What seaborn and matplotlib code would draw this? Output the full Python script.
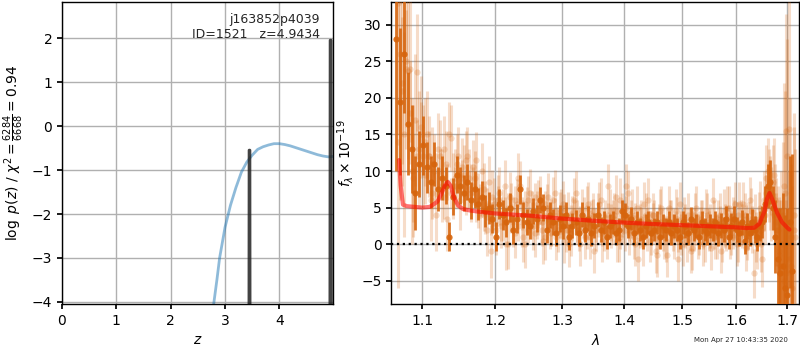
import numpy as np
import pandas as pd
import matplotlib
matplotlib.use("Agg")
import matplotlib.pyplot as plt
import seaborn as sns
from matplotlib.ticker import FixedLocator, FixedFormatter, NullLocator

# ---------------- redshift fit: log p(z) and scaled chi^2 ----------------
chi2_z = [2.78, 2.85, 2.90, 3.00, 3.10, 3.20, 3.30, 3.40, 3.50, 3.60, 3.70,
          3.80, 3.90, 4.00, 4.10, 4.20, 4.30, 4.40, 4.50, 4.60, 4.70, 4.80,
          4.90, 4.99]
chi2_scaled = [-4.15, -3.50, -3.00, -2.30, -1.80, -1.40, -1.05, -0.82, -0.66,
               -0.53, -0.47, -0.43, -0.40, -0.40, -0.42, -0.45, -0.49, -0.53,
               -0.57, -0.61, -0.65, -0.68, -0.70, -0.69]

pz_z = [0.00, 3.430, 3.445, 3.455, 3.470, 4.920, 4.936, 4.950, 4.965, 5.00]
pz_logp = [-20.0, -20.0, -0.55, -0.55, -20.0, -20.0, 1.95, 1.95, -20.0, -20.0]

chi2_num, chi2_den = 6284, 6668
obj_root, obj_id, z_best = "j163852p4039", 1521, 4.9434

# ---------------- 1D spectra of four beams (units of 1e-19) ----------------
# grism pixel grids of the extractions
wave_a = 1.066 + 0.005 * np.arange(130)
wave_b = 1.0685 + 0.005 * np.arange(130)
wave_c = 1.0685 + 0.005 * np.arange(130)
wave_d = 1.071 + 0.005 * np.arange(130)

flux_a = [28, 19.5, 26, 16.5, 13, 7, 11, 13.5, 10.5, 8.5,
          11, 7.5, 9, 8, 1, 6.5, 9.5, 8, 7, 8.5,
          6, 7.5, 5.5, 6.5, 4.5, 5, 3.5, 1, 5.5, 4,
          3, 5, 2, 3.5, 7.5, 4, 3, 2.5, 4.5, 3.5,
          6, 5, 2, 4, 3, 1.5, 3.5, 2.5, 4, 1,
          2.5, 3, 1.5, 4, 2, 3.5, 1.5, 2.5, 4, 2,
          3, 1, 2.5, 3, 1.5, 2, 4.5, 4, 2.5, 3.5,
          1.5, 3, 2, 1, 2.5, 3, 1.5, 2, 3, 1,
          2.5, 2, 3, 1.5, 2.5, 2, 1, 3, 2.5, 1.5,
          3.5, 2, 2.5, 1, 3, 2, 1.5, 2.5, 2, 3,
          1.5, 2.5, 2, 3.5, 1, 2.5, 3.5, 2, 1.5, 3,
          0.5, 2.5, 1.5, 3, 2, 1, 2.5, 3, 5.5, 8,
          8.5, 5, 1, -2, -4, -3, -6, -7, 3, -3.7]
err_a = [18, 10, 8, 7, 6, 5, 4.5, 4, 3.5, 3.5,
         3, 3, 3, 2.5, 2, 2.5, 2.5, 2.5, 2.5, 2.5,
         2.5, 2.5, 2.2, 2.2, 2.2, 2.2, 2, 2, 2, 2,
         2, 2, 2, 2, 2, 1.8, 1.8, 1.8, 1.8, 1.8,
         1.8, 1.8, 1.8, 1.8, 1.8, 1.8, 1.8, 1.8, 1.8, 1.8,
         1.7, 1.7, 1.7, 1.7, 1.7, 1.7, 1.7, 1.7, 1.7, 1.7,
         1.6, 1.6, 1.6, 1.6, 1.6, 1.6, 1.6, 1.6, 1.6, 1.6,
         1.6, 1.6, 1.6, 1.6, 1.6, 1.6, 1.6, 1.6, 1.6, 1.6,
         1.6, 1.6, 1.6, 1.6, 1.6, 1.6, 1.6, 1.6, 1.6, 1.6,
         1.6, 1.6, 1.6, 1.6, 1.6, 1.6, 1.6, 1.6, 1.6, 1.6,
         1.7, 1.7, 1.7, 1.7, 1.7, 1.7, 1.7, 1.7, 1.7, 1.7,
         1.8, 1.8, 1.8, 1.8, 1.8, 2, 2, 2.2, 2.5, 3,
         3, 3, 5, 7, 9, 10, 10, 12, 9, 16]

flux_c = [33, 21, 24, 18, 9, 12, 15, 9.5, 12, 7,
          9.5, 10, 6.5, 8.5, 7, 8, 7.5, 9, 6.5, 7.5,
          8, 5.5, 6, 4, 5.5, 3.5, 4.5, 6, 2.5, 4.5,
          5, 3.5, 6, 2.5, 4, 5.5, 2, 4, 6.5, 3,
          2, 5.5, 3.5, 1.5, 4.5, 3, 2.5, 5, 2, 3.5,
          4.5, 2, 3.5, 2.5, 1, 3, 4.5, 2, 3.5, 1.5,
          2.5, 4, 2, 3.5, 4.5, 1, 3, 5, 2, 2.5,
          4, 1.5, 3.5, 2.5, 1.5, 3, 4, 2, 1, 3,
          2, 3.5, 1.5, 2.5, 3, 0.5, 2.5, 3.5, 1.5, 2,
          3, 1.5, 2.5, 3.5, 1, 2.5, 3, 2, 1, 2.5,
          3.5, 2, 1.5, 2.5, 3, 1, 2.5, 4, 1.5, 2.5,
          3.5, 1, 2, 3, 1.5, 2.5, 2, 4, 7, 8.5,
          7, 4, 2, -1, -3, -5, -4, -2, 1, 2]
err_c = err_a

flux_b = [14, 22, 25, 24, 10, 23.5, 16, 14, 12, 11,
          4, 12, 13, 3.5, 14.5, 9, 12, 10.5, 11.5, 9,
          10.5, 11.5, 4, 7.5, 2, -1, 5.5, 6, 3, 8,
          0, 5, 1.5, 9, 3, 0, 6, 4, 1.5, 5.5,
          3, 1, 6.5, 3, 7, 2, 4.5, 0.5, 4, 1.5,
          6, 3, 0, 3.5, 5, 1, 4, 2, 5.5, 0.5,
          3, 8, 2.5, 4, 0.5, 6, 3, 8, 1.5, 4.5,
          0, -2, 3, 5.5, 2, 0.5, 4, -1, 2.5, 5,
          1, -1.5, 3, 2, 4.5, -2, 1.5, 3.5, 0.5, 2,
          -0.5, 4, 1, 3, 0, 4.5, 2, -0.5, 3, 1,
          4, 0.5, 2.5, 5, 1, 3.5, 5.5, 0.5, 3, 5.5,
          -0.5, 2.5, 4.5, -4, 1, 3.5, 0, 6, 9, 8,
          5.5, 9.5, 3, -1.5, 0, 8, 15.5, 15.8, -3, 4]
err_b = [20, 14, 12, 10, 9, 8, 7, 6, 5.5, 5,
         5, 5, 4.5, 4.5, 4.5, 4, 4, 4, 4, 4,
         3.8, 3.8, 3.8, 3.6, 3.6, 3.6, 3.5, 3.5, 3.5, 3.5,
         3.4, 3.4, 3.4, 3.4, 3.4, 3.3, 3.3, 3.3, 3.3, 3.3,
         3.2, 3.2, 3.2, 3.2, 3.2, 3.1, 3.1, 3.1, 3.1, 3.1,
         3, 3, 3, 3, 3, 3, 3, 3, 3, 3,
         3, 3, 3, 3, 3, 3, 3, 3, 3, 3,
         3, 3, 3, 3, 3, 3, 3, 3, 3, 3,
         3, 3, 3, 3, 3, 3, 3, 3, 3, 3,
         3, 3, 3, 3, 3, 3, 3, 3, 3, 3,
         3, 3, 3, 3, 3, 3, 3, 3, 3, 3,
         3.2, 3.2, 3.2, 3.4, 3.4, 3.6, 3.8, 4, 4.5, 5,
         5, 5, 6, 8, 10, 14, 16, 18, 14, 12]

flux_d = [26, 15, 23.7, 10, 17, 13, 12, 15, 6, 10,
          13, 8, 11, 15, 8, 11, 6, 9.5, 12, 7,
          9, 6, 10, 5, 8.5, 6.5, 2, 7, 4, 0,
          6.5, 3, 5.5, 8, 1, 4.5, 7, 2.5, 4, 6,
          0.5, 5, 2.5, 6, 1, 4, 5.5, 2, 0, 3.5,
          7, 2, 4.5, 1, 5.5, 3, -1, 4, 6, 2,
          1, 4.5, 3, 6.5, 0.5, 4, 2, 7, 3, 1,
          5, 2.5, 0, 4, 6, 1.5, 3, -1.5, 4.5, 2,
          0.5, 5, 3, 1, 3.5, 5.5, 0, 2.5, 4, -1,
          2, 5, 1.5, 3, 0.5, 4, 2.5, 6, 1, 3,
          -1, 4.5, 2, 5, 1.5, 3, 0, 5.5, 2.5, 4,
          1, 6, 2, 3.5, 0, 5, -2, 4, 10, 7,
          8.5, 6, 2, -3, 4, 7, 12, 2, -6, 1]
err_d = err_b

model_wave = [1.070, 1.072, 1.075, 1.080, 1.090, 1.100, 1.110, 1.120, 1.125,
              1.130, 1.134, 1.138, 1.142, 1.148, 1.155, 1.165, 1.180, 1.200,
              1.250, 1.300, 1.350, 1.400, 1.450, 1.500, 1.550, 1.600, 1.620,
              1.635, 1.645, 1.655, 1.660, 1.665, 1.670, 1.680, 1.690, 1.700,
              1.705]
model_flux = [11.5, 8.0, 5.4, 5.2, 5.1, 5.0, 5.1, 5.8, 6.8,
              8.0, 8.5, 8.0, 6.5, 5.3, 4.8, 4.6, 4.4, 4.2,
              3.9, 3.5, 3.2, 2.95, 2.75, 2.6, 2.45, 2.3, 2.2,
              2.25, 2.8, 4.5, 6.2, 7.0, 6.2, 4.3, 3.0, 2.3,
              2.0]

lam_ticks = [1.1, 1.2, 1.3, 1.4, 1.5, 1.6, 1.7]
timestamp = "Mon Apr 27 10:43:35 2020"

# ---------------- style ----------------
sns.set_theme(style="ticks", rc={
    "axes.grid": True,
    "grid.color": "#b0b0b0",
    "grid.linewidth": 1.0,
    "axes.edgecolor": "black",
    "axes.linewidth": 1.0,
    "xtick.labelsize": 10,
    "ytick.labelsize": 10,
    "axes.labelsize": 10,
    "xtick.major.size": 3.5,
    "ytick.major.size": 3.5,
    "xtick.color": "black",
    "ytick.color": "black",
    "axes.labelcolor": "black",
})
plt.rcParams["font.family"] = ["DejaVu Sans"]
plt.rcParams["mathtext.fontset"] = "dejavusans"

fig = plt.figure(figsize=(8, 3.5), dpi=100)
ax_z = fig.add_axes([0.0775, 0.131, 0.339, 0.863])
ax_s = fig.add_axes([0.489, 0.131, 0.510, 0.863])

# ---- left: p(z) ----
df_chi = pd.DataFrame({"z": chi2_z, "v": chi2_scaled})
sns.lineplot(data=df_chi, x="z", y="v", ax=ax_z, color="#1f77b4", alpha=0.5,
             lw=2, sort=False, estimator=None)
df_pz = pd.DataFrame({"z": pz_z, "v": pz_logp})
sns.lineplot(data=df_pz, x="z", y="v", ax=ax_z, color="#222222", alpha=0.85,
             lw=2.2, sort=False, estimator=None)
ax_z.set_xlim(0, 4.99)
ax_z.set_ylim(-4.05, 2.82)
ax_z.set_xticks([0, 1, 2, 3, 4])
ax_z.set_yticks([-4, -3, -2, -1, 0, 1, 2])
ax_z.set_xlabel(r"$z$")
ax_z.set_ylabel(r"$\log\ p(z)$ / $\chi^2=\frac{%d}{%d}=%.2f$"
                % (chi2_num, chi2_den, chi2_num / chi2_den))
ax_z.text(0.952, 0.965, "%s\nID=%d   z=%.4f" % (obj_root, obj_id, z_best),
          ha="right", va="top", transform=ax_z.transAxes, fontsize=9)

# ---- right: spectrum ----
orange = "#d6640c"
for w, f, e in ((wave_b, flux_b, err_b), (wave_d, flux_d, err_d),
                (wave_c, flux_c, err_c)):
    ax_s.errorbar(w, f, yerr=e, fmt="o", color=orange, alpha=0.22,
                  ms=4.5, elinewidth=2.2, mew=0, zorder=3)
ax_s.errorbar(wave_a, flux_a, yerr=err_a, fmt="o", color=orange, alpha=0.9,
              ms=4.5, elinewidth=2.0, mew=0, zorder=4)
df_model = pd.DataFrame({"w": model_wave, "f": model_flux})
sns.lineplot(data=df_model, x="w", y="f", ax=ax_s, color="red", alpha=0.55,
             lw=3, sort=False, estimator=None, zorder=5)
ax_s.axhline(0, color="black", ls=":", lw=1.6, zorder=6)

ax_s.set_xscale("log")
ax_s.set_xlim(1.06, 1.725)
ax_s.set_ylim(-8.2, 33.1)
ax_s.xaxis.set_major_locator(FixedLocator(lam_ticks))
ax_s.xaxis.set_major_formatter(FixedFormatter(["%.1f" % t for t in lam_ticks]))
ax_s.xaxis.set_minor_locator(NullLocator())
ax_s.set_yticks([-5, 0, 5, 10, 15, 20, 25, 30])
ax_s.set_xlabel(r"$\lambda$")
ax_s.set_ylabel(r"$f_\lambda\times10^{-19}$")

for ax in (ax_z, ax_s):
    ax.set_axisbelow(True)
    for sp in ax.spines.values():
        sp.set_visible(True)

fig.text(0.985, 0.028, timestamp, ha="right", va="center", fontsize=5)

fig.savefig("out.png", dpi=100)
